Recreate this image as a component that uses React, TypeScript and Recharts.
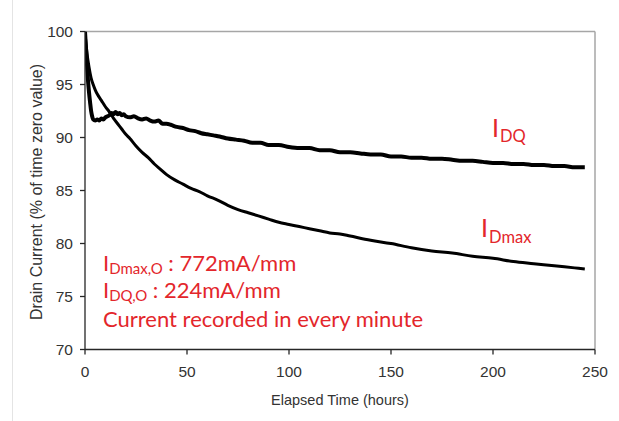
import React from 'react';
import { LineChart, Line, XAxis, YAxis, ReferenceLine, Customized } from 'recharts';

const idqTime = [0, 0.5, 1, 1.5, 2, 2.5, 3, 3.5, 4, 5, 6, 7, 8, 9, 10, 11, 12, 13, 14, 15, 16, 17, 18, 19, 20, 22, 24, 26, 28, 30, 32, 34, 36, 38, 40, 42, 45, 48, 51, 54, 57, 60, 63, 66, 70, 74, 78, 82, 86, 90, 95, 100, 105, 110, 115, 120, 125, 130, 135, 140, 145, 150, 155, 160, 165, 170, 175, 180, 185, 190, 195, 200, 205, 210, 215, 220, 225, 230, 235, 240, 245];
const idqValues = [100, 98.4, 96.8, 95.3, 94.2, 93.3, 92.5, 92.0, 91.7, 91.6, 91.7, 91.6, 91.8, 91.7, 91.9, 92.0, 92.1, 92.3, 92.2, 92.4, 92.2, 92.3, 92.1, 92.2, 92.0, 91.9, 92.0, 91.8, 91.7, 91.8, 91.6, 91.5, 91.6, 91.3, 91.3, 91.2, 91.0, 90.9, 90.7, 90.6, 90.4, 90.3, 90.2, 90.1, 89.9, 89.8, 89.7, 89.5, 89.5, 89.3, 89.3, 89.1, 89.0, 89.0, 88.8, 88.8, 88.6, 88.6, 88.5, 88.4, 88.4, 88.2, 88.2, 88.1, 88.1, 88.0, 88.0, 87.9, 87.8, 87.8, 87.7, 87.6, 87.6, 87.5, 87.5, 87.4, 87.4, 87.3, 87.3, 87.2, 87.2];

const idmaxTime = [0, 0.5, 1, 2, 3, 4, 5, 6, 8, 10, 12, 13, 14, 16, 18, 20, 22, 25, 28, 31, 34, 37, 40, 44, 48, 52, 56, 60, 65, 70, 75, 80, 85, 90, 95, 100, 105, 110, 115, 120, 125, 130, 140, 150, 160, 170, 180, 190, 200, 210, 220, 230, 240, 245];
const idmaxValues = [100, 98.8, 97.9, 96.6, 95.6, 95.0, 94.5, 94.1, 93.5, 92.9, 92.4, 92.1, 91.8, 91.3, 90.8, 90.3, 89.9, 89.2, 88.6, 88.1, 87.5, 87.0, 86.5, 86.0, 85.6, 85.2, 84.9, 84.5, 84.1, 83.6, 83.2, 82.9, 82.6, 82.3, 82.0, 81.8, 81.6, 81.4, 81.2, 81.0, 80.9, 80.7, 80.3, 80.0, 79.6, 79.3, 79.1, 78.8, 78.6, 78.3, 78.1, 77.9, 77.7, 77.6];

const xTicks = [0, 50, 100, 150, 200, 250];
const yTicks = [70, 75, 80, 85, 90, 95, 100];

const idqData = idqTime.map((t, i) => ({ t, v: idqValues[i] }));
const idmaxData = idmaxTime.map((t, i) => ({ t, v: idmaxValues[i] }));

const RED = '#e3262b';
const AX = '#262626';
const TXT = '#333333';
const FONT = '"Liberation Sans", Arial, sans-serif';
const RFONT = 'Lato, "Noto Sans", sans-serif';

const Annotations = () => (
  <g>
    <text x={36.5} y={192} transform="rotate(-90 36.5 192)" textAnchor="middle" dominantBaseline="central" fill={TXT} fontFamily={FONT} fontSize={16}>
      Drain Current (% of time zero value)
    </text>
    <text x={340} y={405} textAnchor="middle" fill={TXT} fontFamily={FONT} fontSize={14.5}>
      Elapsed Time (hours)
    </text>
    <text x={492} y={137} fill={RED} fontFamily={RFONT} fontSize={25}>
      <tspan>I</tspan>
      <tspan fontSize={16.5} dy={5} dx={1}>DQ</tspan>
    </text>
    <text x={481} y={237} fill={RED} fontFamily={RFONT} fontSize={25}>
      <tspan>I</tspan>
      <tspan fontSize={16.5} dy={6} dx={1}>Dmax</tspan>
    </text>
    <text x={103} y={271} fill={RED} fontFamily={RFONT} fontSize={22}>
      <tspan>I</tspan>
      <tspan fontSize={15} dy={3}>Dmax,O</tspan>
      <tspan dy={-3}> : 772mA/mm</tspan>
    </text>
    <text x={103} y={298} fill={RED} fontFamily={RFONT} fontSize={22}>
      <tspan>I</tspan>
      <tspan fontSize={15} dy={3}>DQ,O</tspan>
      <tspan dy={-3}> : 224mA/mm</tspan>
    </text>
    <text x={103} y={327} fill={RED} fontFamily={RFONT} fontSize={22}>
      Current recorded in every minute
    </text>
  </g>
);

export default function App() {
  return (
    <div style={{ position: 'absolute', left: 0, top: 0, width: 619, height: 421, background: '#fff' }}>
      <div style={{ position: 'absolute', left: 12, top: 0, width: 1, height: 421, background: '#e4e4e4' }} />
      <LineChart
        width={619}
        height={421}
        margin={{ top: 31.5, right: 24, left: 0, bottom: 41.5 }}
      >
        <XAxis
          dataKey="t"
          type="number"
          domain={[0, 250]}
          ticks={xTicks}
          allowDataOverflow
          height={30}
          tickSize={5}
          tickMargin={11}
          axisLine={{ stroke: AX, strokeWidth: 1.3 }}
          tickLine={{ stroke: AX, strokeWidth: 1.3 }}
          tick={{ fill: TXT, fontFamily: FONT, fontSize: 15.5 }}
        />
        <YAxis
          dataKey="v"
          type="number"
          domain={[70, 100]}
          ticks={yTicks}
          allowDataOverflow
          width={85}
          tickSize={5}
          tickMargin={7}
          axisLine={{ stroke: AX, strokeWidth: 1.3 }}
          tickLine={{ stroke: AX, strokeWidth: 1.3 }}
          tick={{ fill: TXT, fontFamily: FONT, fontSize: 15.5 }}
        />
        <ReferenceLine y={100} stroke="#a6a6a6" strokeWidth={1.5} />
        <ReferenceLine x={250} stroke="#a6a6a6" strokeWidth={1.5} />
        <Line
          data={idmaxData}
          dataKey="v"
          type="monotone"
          stroke="#000"
          strokeWidth={3}
          dot={false}
          isAnimationActive={false}
        />
        <Line
          data={idqData}
          dataKey="v"
          type="monotone"
          stroke="#000"
          strokeWidth={4}
          dot={false}
          isAnimationActive={false}
        />
        <Customized component={Annotations} />
      </LineChart>
    </div>
  );
}
